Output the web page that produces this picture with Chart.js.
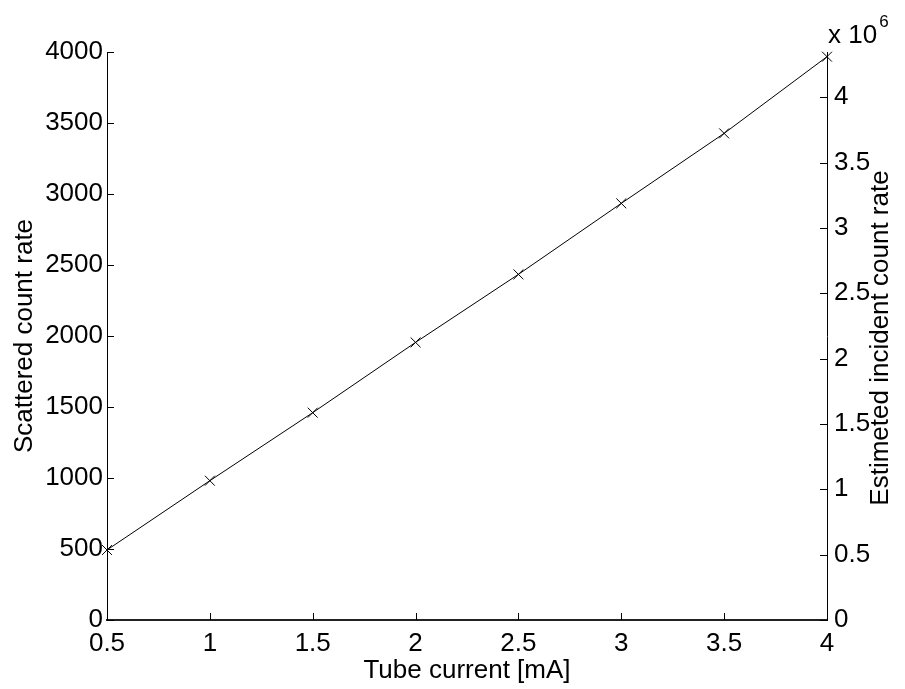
<!DOCTYPE html>
<html lang="en">
<head>
<meta charset="UTF-8">
<title>Scattered count rate vs tube current</title>
<script src="https://cdn.jsdelivr.net/npm/chart.js"></script>
<style>
  html, body { margin: 0; padding: 0; background: #fff; }
  #wrap { width: 905px; height: 689px; }
</style>
</head>
<body>
<div id="wrap"><canvas id="rateChart" width="905" height="689"></canvas></div>
<script>
  // values
  const tubeCurrent = [0.5, 1, 1.5, 2, 2.5, 3, 3.5, 4];
  const scatteredRate = [493, 981, 1460, 1955, 2434, 2934, 3427, 3967];
  const leftTicks = [0, 500, 1000, 1500, 2000, 2500, 3000, 3500, 4000];
  const rightTicks = [0, 0.5, 1, 1.5, 2, 2.5, 3, 3.5, 4];   // x 10^6
  const rightMax = 4.346;                                    // x 10^6

  const FONT = '"Liberation Sans", Arial, Helvetica, sans-serif';
  const tickFont = { family: FONT, size: 26 };
  const titleFont = { family: FONT, size: 26 };

  // MATLAB style ticks pointing into the axes, plus right label and exponent
  const innerTicks = {
    id: 'innerTicks',
    afterDraw(chart) {
      const ctx = chart.ctx;
      const area = chart.chartArea;
      const len = 7;
      ctx.save();
      ctx.strokeStyle = '#000';
      ctx.lineWidth = 1;
      ctx.beginPath();
      const x = chart.scales.x;
      x.ticks.forEach(t => {
        const px = Math.round(x.getPixelForValue(t.value)) + 0.5;
        ctx.moveTo(px, area.bottom);
        ctx.lineTo(px, area.bottom - len);
      });
      const y = chart.scales.y;
      y.ticks.forEach(t => {
        const py = Math.round(y.getPixelForValue(t.value)) + 0.5;
        ctx.moveTo(area.left, py);
        ctx.lineTo(area.left + len, py);
      });
      const y2 = chart.scales.y2;
      y2.ticks.forEach(t => {
        const py = Math.round(y2.getPixelForValue(t.value)) + 0.5;
        ctx.moveTo(area.right, py);
        ctx.lineTo(area.right - len, py);
      });
      ctx.stroke();

      ctx.fillStyle = '#000';
      // right axis title, reading bottom to top
      ctx.save();
      ctx.translate(881, (area.top + area.bottom) / 2 + 2);
      ctx.rotate(-Math.PI / 2);
      ctx.textAlign = 'center';
      ctx.textBaseline = 'middle';
      ctx.font = '26px ' + FONT;
      ctx.fillText('Estimeted incident count rate', 0, 0);
      ctx.restore();

      // exponent label above the right axis
      ctx.textBaseline = 'alphabetic';
      ctx.textAlign = 'left';
      ctx.font = '26px ' + FONT;
      ctx.fillText('x 10', area.right + 1, 43);
      const w = ctx.measureText('x 10').width;
      ctx.font = '17px ' + FONT;
      ctx.fillText('6', area.right + 3 + w, 27);
      ctx.restore();
    }
  };

  const ctx = document.getElementById('rateChart').getContext('2d');
  new Chart(ctx, {
    type: 'line',
    data: {
      datasets: [{
        label: 'Scattered count rate',
        data: tubeCurrent.map((c, i) => ({ x: c, y: scatteredRate[i] })),
        borderColor: '#000',
        borderWidth: 1,
        pointStyle: 'crossRot',
        pointRadius: 7,
        pointBorderColor: '#000',
        pointBorderWidth: 1,
        tension: 0,
        fill: false,
        clip: false,
        yAxisID: 'y'
      }]
    },
    options: {
      responsive: false,
      animation: false,
      devicePixelRatio: 1,
      layout: { padding: { top: 52, left: 0, right: 0, bottom: 0 } },
      plugins: {
        legend: { display: false },
        tooltip: { enabled: false }
      },
      scales: {
        x: {
          type: 'linear',
          min: 0.5,
          max: 4,
          ticks: {
            stepSize: 0.5,
            color: '#000',
            font: tickFont,
            padding: 8,
            maxRotation: 0,
            callback: v => String(v)
          },
          grid: { display: false, drawTicks: false },
          border: { display: true, color: '#222', width: 2 },
          title: {
            display: true,
            text: 'Tube current [mA]',
            color: '#000',
            font: titleFont,
            padding: { top: 0, bottom: 3 }
          },
          afterFit: s => { s.height = 69; }
        },
        y: {
          type: 'linear',
          position: 'left',
          min: leftTicks[0],
          max: leftTicks[leftTicks.length - 1],
          afterBuildTicks: s => { s.ticks = leftTicks.map(v => ({ value: v })); },
          ticks: {
            color: '#000',
            font: tickFont,
            padding: 4,
            callback: v => String(v)
          },
          grid: { display: false, drawTicks: false },
          border: { display: true, color: '#000', width: 1 },
          title: {
            display: true,
            text: 'Scattered count rate',
            color: '#000',
            font: titleFont,
            padding: { top: 9, bottom: 0 }
          },
          afterFit: s => { s.width = 107; }
        },
        y2: {
          type: 'linear',
          position: 'right',
          min: 0,
          max: rightMax * 1e6,
          afterBuildTicks: s => { s.ticks = rightTicks.map(v => ({ value: v * 1e6 })); },
          ticks: {
            color: '#000',
            font: tickFont,
            padding: 7,
            callback: v => String(v / 1e6)
          },
          grid: { display: false, drawTicks: false },
          border: { display: true, color: '#000', width: 1 },
          afterFit: s => { s.width = 78; }
        }
      }
    },
    plugins: [innerTicks]
  });
</script>
</body>
</html>
